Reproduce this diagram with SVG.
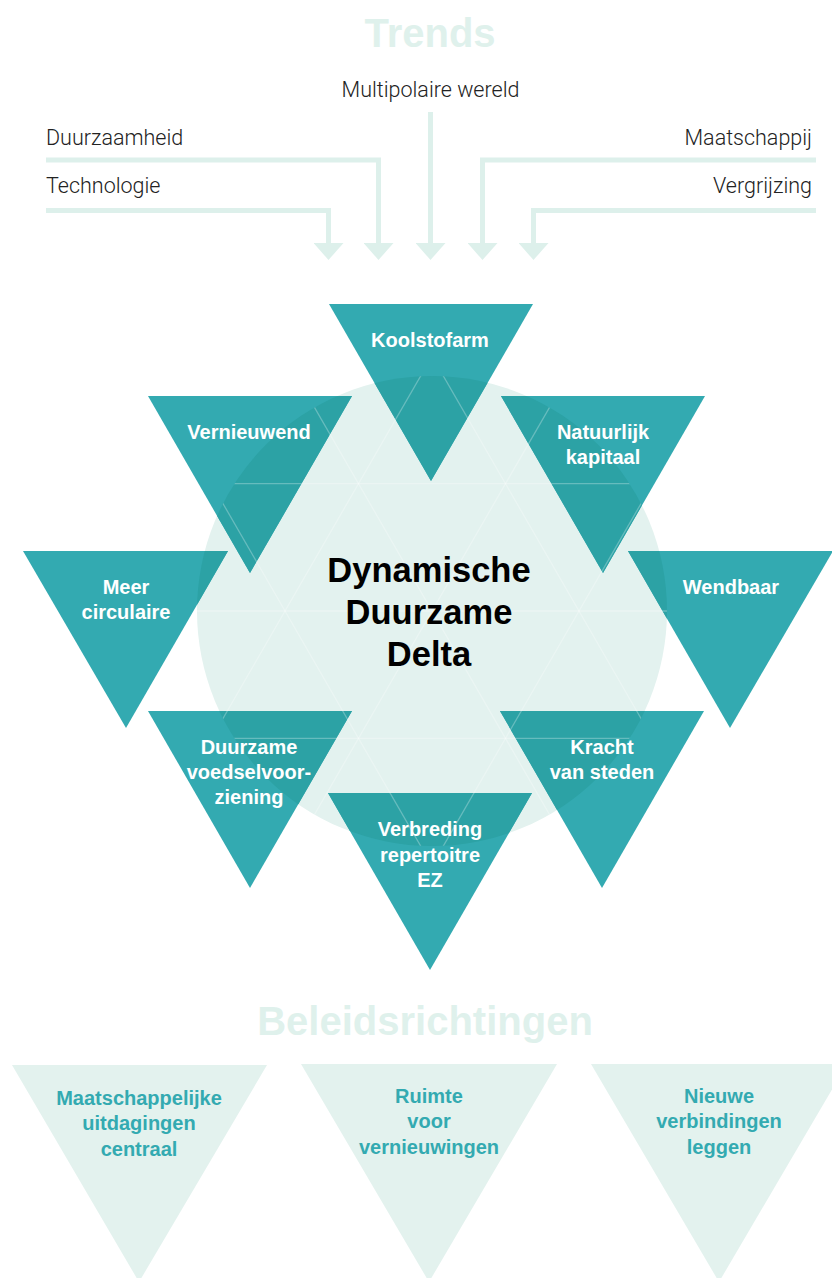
<svg xmlns="http://www.w3.org/2000/svg" width="832" height="1278" viewBox="0 0 832 1278">
<style>
.title{font-family:"Liberation Sans",Arial,sans-serif;font-weight:bold;font-size:40px;fill:#dff1ec;text-anchor:middle}
.trend{font-family:Roboto,"Liberation Sans",sans-serif;font-weight:300;font-size:21.5px;fill:#222}
.tri{fill:#33aab1}
.ov{fill:#2ca2a5}
.lbl{font-family:"Liberation Sans",Arial,sans-serif;font-weight:bold;font-size:20px;fill:#ffffff;text-anchor:middle}
.btri{fill:#e3f2ee}
.blbl{font-family:"Liberation Sans",Arial,sans-serif;font-weight:bold;font-size:20px;fill:#33aab1;text-anchor:middle}
.conn{fill:none;stroke:#ddf0eb;stroke-width:5}
.grid{stroke:#ffffff;stroke-opacity:0.28;stroke-width:1.3}
.center{font-family:"Liberation Sans",Arial,sans-serif;font-weight:bold;font-size:34.5px;fill:#000;text-anchor:middle}
</style>
<defs>
<clipPath id="circ"><circle cx="432" cy="611" r="235"/></clipPath>
<marker id="ah" viewBox="0 -15 17 30" refX="0" refY="0" markerUnits="userSpaceOnUse" markerWidth="17" markerHeight="30" orient="auto">
<path d="M0,-15 L17,0 L0,15 Z" fill="#ddf0eb"/>
</marker>
</defs>
<rect width="832" height="1278" fill="#ffffff"/>

<text class="title" x="430" y="47">Trends</text>

<g id="trend-labels">
<text class="trend" x="430.5" y="97" text-anchor="middle">Multipolaire wereld</text>
<text class="trend" x="46" y="145">Duurzaamheid</text>
<text class="trend" x="46" y="193">Technologie</text>
<text class="trend" x="812" y="145" text-anchor="end">Maatschappij</text>
<text class="trend" x="812" y="193" text-anchor="end">Vergrijzing</text>
</g>

<g id="connectors">
<path class="conn" d="M46,160 H378.5 V243" marker-end="url(#ah)"/>
<path class="conn" d="M46,210.5 H328.5 V243" marker-end="url(#ah)"/>
<path class="conn" d="M430.5,112 V243" marker-end="url(#ah)"/>
<path class="conn" d="M816,160 H482.5 V243" marker-end="url(#ah)"/>
<path class="conn" d="M816,210.5 H533.5 V243" marker-end="url(#ah)"/>
</g>

<circle id="delta-circle" cx="432" cy="611" r="235" fill="#e3f2ef"/>

<g id="koolstofarm">
<polygon class="tri" points="329,304 533,304 431,481"/>
<polygon class="ov" clip-path="url(#circ)" points="329,304 533,304 431,481"/>
<text class="lbl" x="430" y="347">Koolstofarm</text>
</g>
<g id="vernieuwend">
<polygon class="tri" points="148,396 352,396 250,573"/>
<polygon class="ov" clip-path="url(#circ)" points="148,396 352,396 250,573"/>
<text class="lbl" x="249" y="439">Vernieuwend</text>
</g>
<g id="natuurlijk-kapitaal">
<polygon class="tri" points="501,396 705,396 603,573"/>
<polygon class="ov" clip-path="url(#circ)" points="501,396 705,396 603,573"/>
<text class="lbl" x="603" y="439">Natuurlijk</text>
<text class="lbl" x="603" y="464">kapitaal</text>
</g>
<g id="meer-circulaire">
<polygon class="tri" points="23,551 228,551 126,728"/>
<polygon class="ov" clip-path="url(#circ)" points="23,551 228,551 126,728"/>
<text class="lbl" x="126" y="594">Meer</text>
<text class="lbl" x="126" y="619">circulaire</text>
</g>
<g id="wendbaar">
<polygon class="tri" points="628,551 833,551 730,728"/>
<polygon class="ov" clip-path="url(#circ)" points="628,551 833,551 730,728"/>
<text class="lbl" x="731" y="594">Wendbaar</text>
</g>
<g id="duurzame-voedselvoorziening">
<polygon class="tri" points="148,711 352,711 250,888"/>
<polygon class="ov" clip-path="url(#circ)" points="148,711 352,711 250,888"/>
<text class="lbl" x="249" y="754">Duurzame</text>
<text class="lbl" x="249" y="779">voedselvoor-</text>
<text class="lbl" x="249" y="804">ziening</text>
</g>
<g id="kracht-van-steden">
<polygon class="tri" points="500,711 704,711 602,888"/>
<polygon class="ov" clip-path="url(#circ)" points="500,711 704,711 602,888"/>
<text class="lbl" x="602" y="754">Kracht</text>
<text class="lbl" x="602" y="779">van steden</text>
</g>
<g id="verbreding-repertoire">
<polygon class="tri" points="328,793 532,793 430,970"/>
<polygon class="ov" clip-path="url(#circ)" points="328,793 532,793 430,970"/>
<text class="lbl" x="430" y="836">Verbreding</text>
<text class="lbl" x="430" y="862">repertoitre</text>
<text class="lbl" x="430" y="887">EZ</text>
</g>

<g id="grid" clip-path="url(#circ)" class="grid">
<line x1="190" y1="483.7" x2="680" y2="483.7"/>
<line x1="190" y1="611" x2="680" y2="611"/>
<line x1="190" y1="738.3" x2="680" y2="738.3"/>
<line x1="134.9" y1="351" x2="435.1" y2="871"/>
<line x1="281.9" y1="351" x2="582.1" y2="871"/>
<line x1="428.9" y1="351" x2="729.1" y2="871"/>
<line x1="435.1" y1="351" x2="134.9" y2="871"/>
<line x1="582.1" y1="351" x2="281.9" y2="871"/>
<line x1="729.1" y1="351" x2="428.9" y2="871"/>
</g>

<g id="dynamische-duurzame-delta">
<text class="center" x="429" y="582">Dynamische</text>
<text class="center" x="429" y="624">Duurzame</text>
<text class="center" x="429" y="666">Delta</text>
</g>

<text class="title" x="425" y="1035">Beleidsrichtingen</text>

<g id="maatschappelijke-uitdagingen">
<polygon class="btri" points="12,1065 267,1065 139,1282"/>
<text class="blbl" x="139" y="1105">Maatschappelijke</text>
<text class="blbl" x="139" y="1130">uitdagingen</text>
<text class="blbl" x="139" y="1156">centraal</text>
</g>
<g id="ruimte-voor-vernieuwingen">
<polygon class="btri" points="301,1064 557,1064 429,1282"/>
<text class="blbl" x="429" y="1103">Ruimte</text>
<text class="blbl" x="429" y="1128">voor</text>
<text class="blbl" x="429" y="1154">vernieuwingen</text>
</g>
<g id="nieuwe-verbindingen">
<polygon class="btri" points="591,1064 847,1064 719,1282"/>
<text class="blbl" x="719" y="1103">Nieuwe</text>
<text class="blbl" x="719" y="1128">verbindingen</text>
<text class="blbl" x="719" y="1154">leggen</text>
</g>
</svg>
